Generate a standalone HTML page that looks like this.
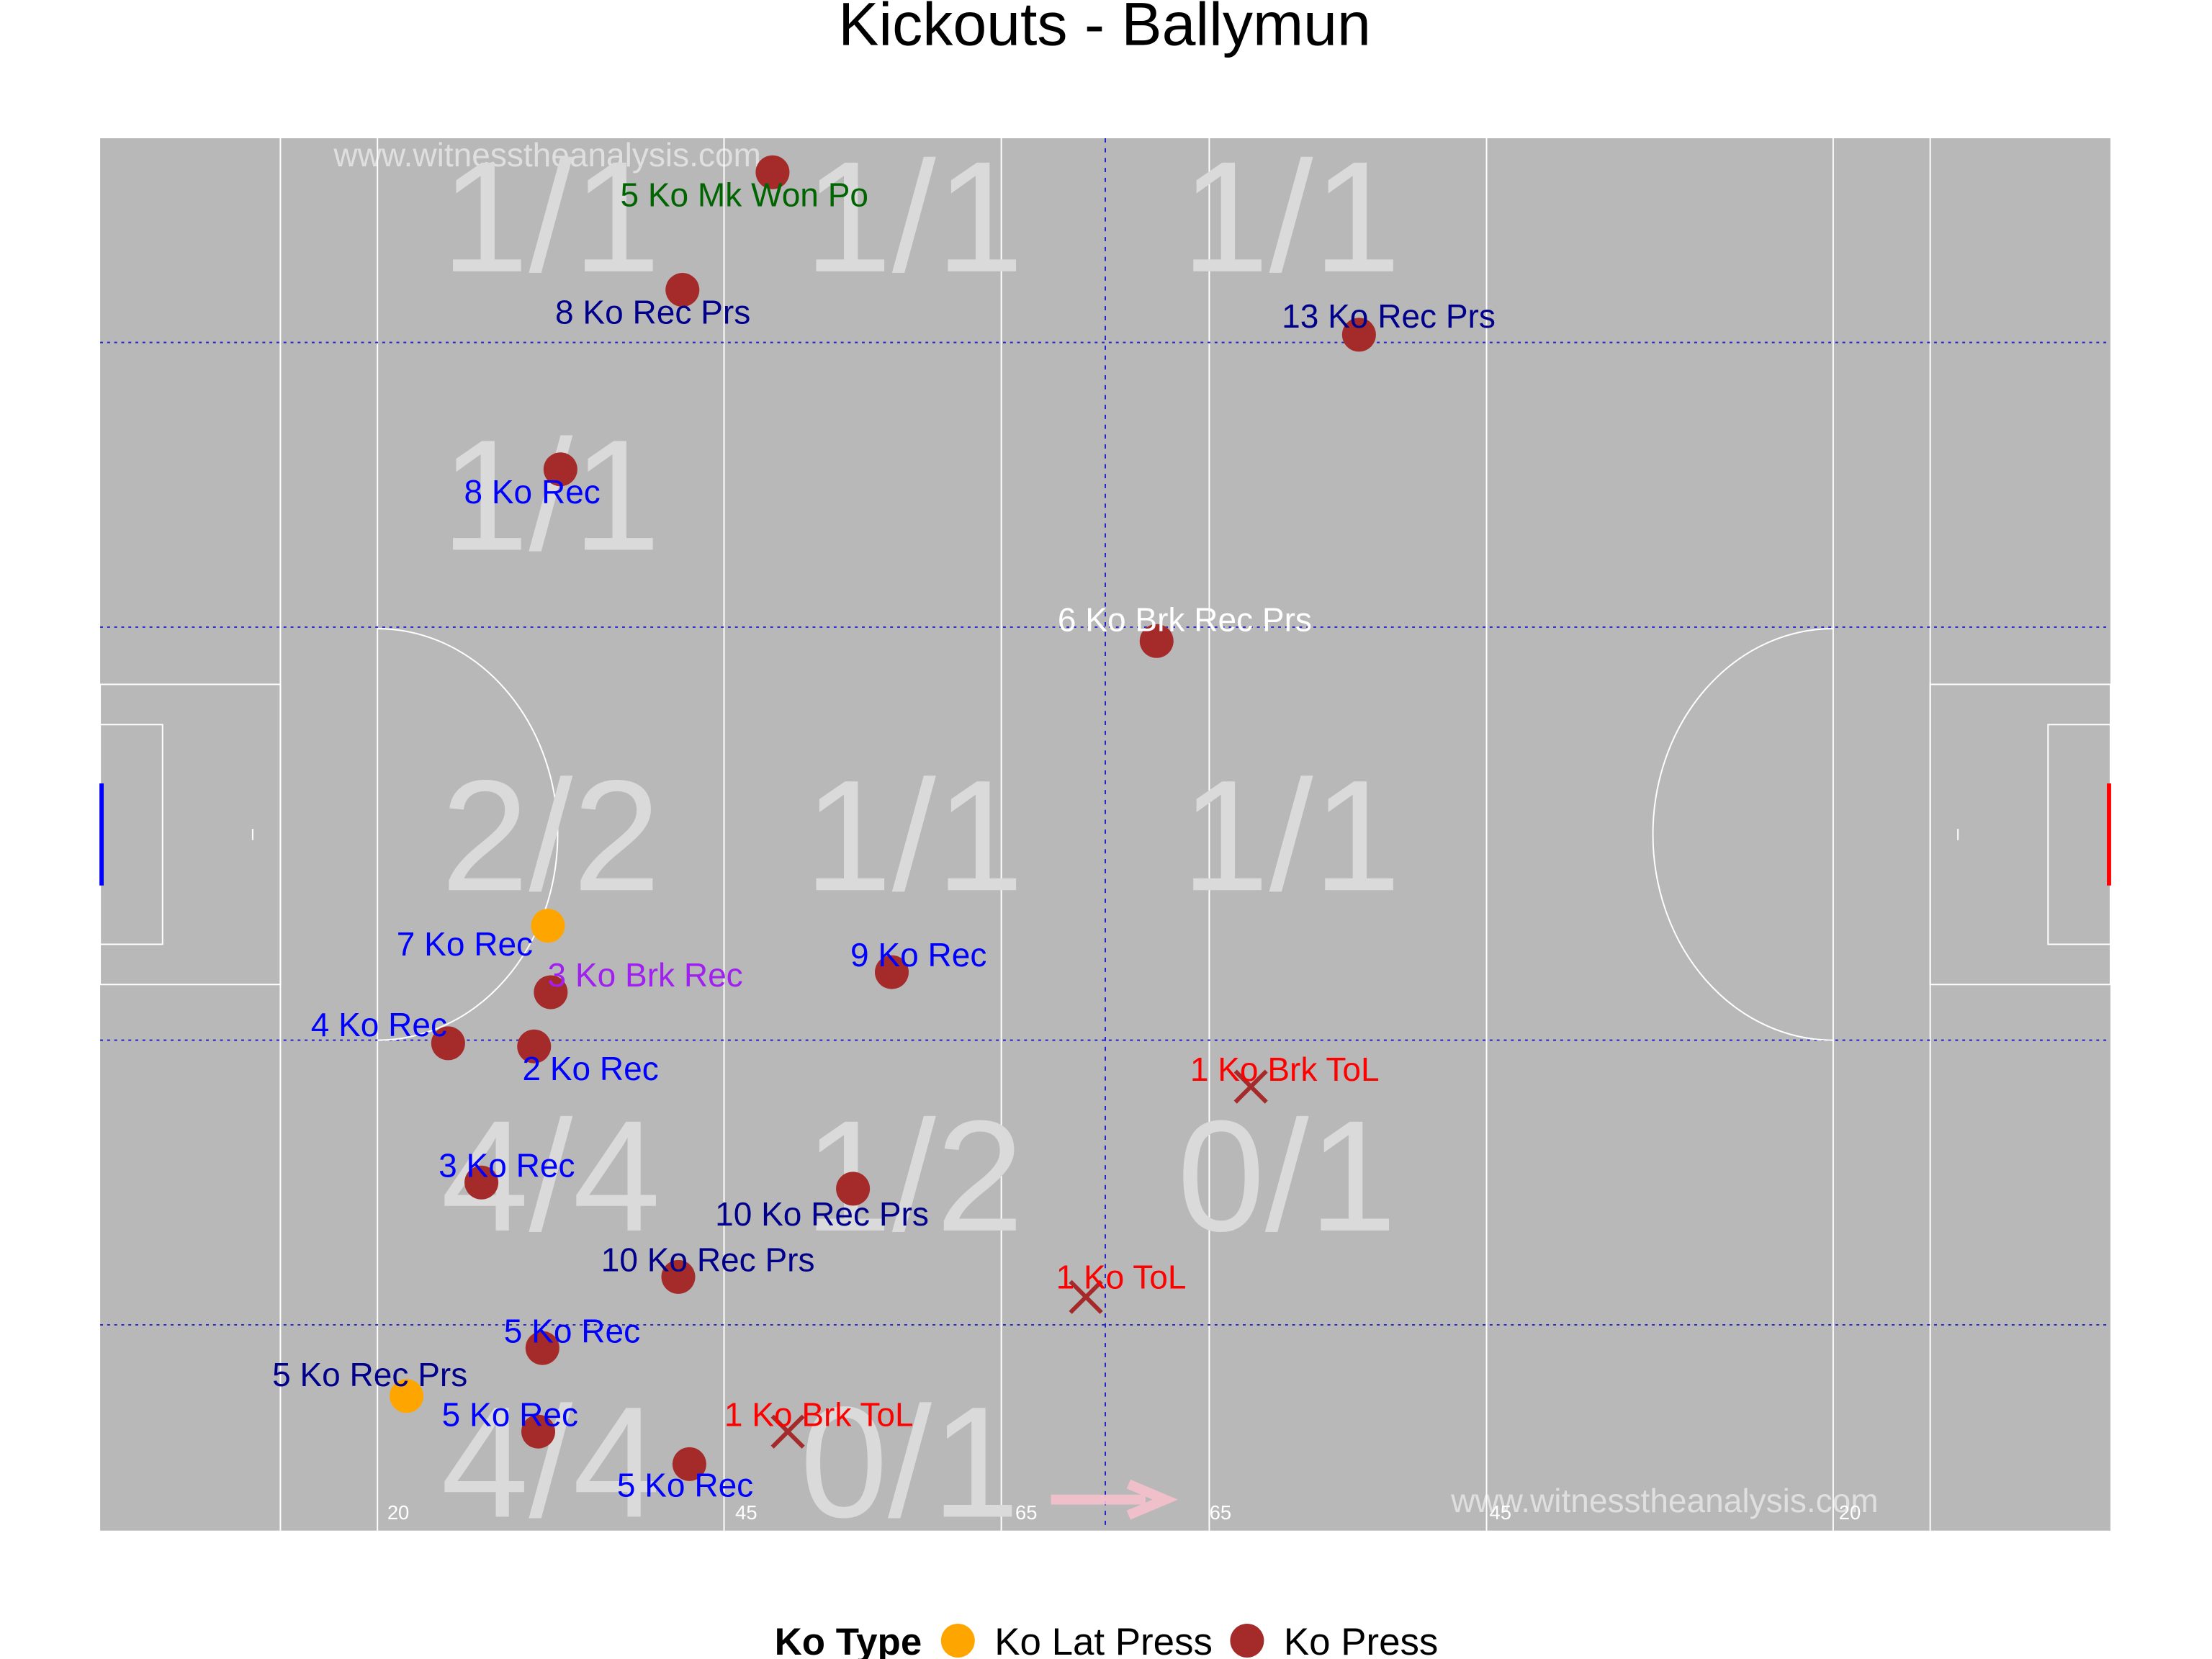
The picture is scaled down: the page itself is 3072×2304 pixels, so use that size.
<!DOCTYPE html>
<html><head><meta charset="utf-8"><style>html,body{margin:0;padding:0;background:#fff}svg{display:block}text{font-family:"Liberation Sans",sans-serif}</style></head>
<body>
<svg id="chart" width="3072" height="2304" viewBox="0 0 1568 1176" xmlns="http://www.w3.org/2000/svg">
<text x="783" y="32" font-size="43" text-anchor="middle" fill="#000">Kickouts - Ballymun</text>
<g id="pitch"></g>
<g id="zones"></g>
<g id="marks"></g>
<g>
<text x="549" y="1173" font-size="27" font-weight="bold">Ko Type</text>
<circle cx="679" cy="1163" r="12" fill="#ffa500"/>
<text x="705" y="1173" font-size="27">Ko Lat Press</text>
<circle cx="884" cy="1163" r="12" fill="#a52a2a"/>
<text x="910" y="1173" font-size="27">Ko Press</text>
</g>
</svg>
<script>
// data (pitch metres: x 0..145, y 0..90)
const pointX = [48.5,42.0,90.8,33.2,76.2,32.3,32.5,57.1,25.1,31.3,27.5,54.3,41.7,31.9,22.1,31.6,42.5];
const pointY = [2.2,9.8,12.7,21.4,32.5,50.9,55.2,53.9,58.5,58.7,67.5,67.9,73.6,78.2,81.3,83.6,85.7];
const pointType = ["press","press","press","press","press","lat","press","press","press","press","press","press","press","press","lat","press","press"];
const pointLabel = ["5 Ko Mk Won Po","8 Ko Rec Prs","13 Ko Rec Prs","8 Ko Rec","6 Ko Brk Rec Prs","7 Ko Rec","3 Ko Brk Rec","9 Ko Rec","4 Ko Rec","2 Ko Rec","3 Ko Rec","10 Ko Rec Prs","10 Ko Rec Prs","5 Ko Rec","5 Ko Rec Prs","5 Ko Rec","5 Ko Rec"];
const pointLabelColor = ["#006400","#00008b","#00008b","#0000ff","#ffffff","#0000ff","#a020f0","#0000ff","#0000ff","#0000ff","#0000ff","#00008b","#00008b","#0000ff","#00008b","#0000ff","#0000ff"];
const pointLabelDx = [-20,-21,21,-20,20,-59,67,19,-49,40,18,-22,21,21,-26,-20,-3];
const pointLabelDy = [16,16,-13,16,-15,13,-12,-12,-13,16,-12,18,-12,-12,-15,-12,15];
const crossX = [83.0,71.1,49.6];
const crossY = [61.3,74.9,83.6];
const crossLabel = ["1 Ko Brk ToL","1 Ko ToL","1 Ko Brk ToL"];
const crossLabelDx = [24,25,22];
const crossLabelDy = [-12,-14,-12];
const zoneText = ["1/1","1/1","1/1","1/1","2/2","1/1","1/1","4/4","1/2","0/1","4/4","0/1"];
const zoneX = [32.5,58.7,85.9,32.5,32.5,58.7,85.9,32.5,58.7,85.6,32.5,58.4];
const zoneY = [5.5,5.5,5.5,23.5,45.5,45.5,45.5,67.5,67.5,67.5,86,86];
const yardLabels = ["20","45","65","65","45","20"];
const yardX = [21.5,46.6,66.8,80.8,101,126.2];

const X0=71,X1=1496,Y0=98,Y1=1085;
const sx = v => X0 + v*(X1-X0)/145;
const sy = v => Y0 + v*(Y1-Y0)/90;
const NS="http://www.w3.org/2000/svg";
function mk(parent, tag, attrs, txt){const e=document.createElementNS(NS,tag);for(const k in attrs)e.setAttribute(k,attrs[k]);if(txt!==undefined)e.textContent=txt;parent.appendChild(e);return e;}

const P=document.getElementById('pitch');
let e;
e=mk(P,'rect',{x:X0,y:Y0,width:X1-X0,height:Y1-Y0,fill:'#b8b8b8'});


[13,20,45,65,80,100,125,132].forEach(m=>{
  e=mk(P,'line',{x1:sx(m),x2:sx(m),y1:Y0,y2:Y1,stroke:'#fff','stroke-width':1});
  
  
});
[13.2,31.6,58.3,76.7].forEach(m=>{
  e=mk(P,'line',{x1:X0,x2:X1,y1:sy(m),y2:sy(m),stroke:'#2222cc','stroke-width':1,'stroke-dasharray':'2,3'});
  
  
});
e=mk(P,'line',{x1:sx(72.5),x2:sx(72.5),y1:Y0,y2:Y1,stroke:'#2222cc','stroke-width':1,'stroke-dasharray':'3,4'});


[[0,13,35.3,54.7],[0,4.5,37.9,52.1],[132,145,35.3,54.7],[140.5,145,37.9,52.1]].forEach(b=>{
  e=mk(P,'rect',{x:sx(b[0]),y:sy(b[2]),width:sx(b[1])-sx(b[0]),height:sy(b[3])-sy(b[2]),fill:'none',stroke:'#fff','stroke-width':1});
  
  
});
const rx=sx(33)-sx(20), ry=sy(58.3)-sy(45), cy=sy(45);
e=mk(P,'path',{d:`M${sx(20)},${cy-ry} A${rx},${ry} 0 0 1 ${sx(20)},${cy+ry}`,fill:'none',stroke:'#fff','stroke-width':1});


e=mk(P,'path',{d:`M${sx(125)},${cy-ry} A${rx},${ry} 0 0 0 ${sx(125)},${cy+ry}`,fill:'none',stroke:'#fff','stroke-width':1});


[11,134].forEach(m=>{e=mk(P,'line',{x1:sx(m),x2:sx(m),y1:cy-4,y2:cy+4,stroke:'#fff','stroke-width':1});

});
e=mk(P,'line',{x1:X0+1,x2:X0+1,y1:sy(41.7),y2:sy(48.3),stroke:'#0000ff','stroke-width':3});


e=mk(P,'line',{x1:X1-1,x2:X1-1,y1:sy(41.7),y2:sy(48.3),stroke:'#ff0000','stroke-width':3});


yardLabels.forEach((t,i)=>{e=mk(P,'text',{x:sx(yardX[i]),y:1077,'font-size':14,fill:'#fff','text-anchor':'middle'},t);

});
e=mk(P,'text',{x:388,y:118,'font-size':23.5,fill:'#fff','fill-opacity':0.55,'text-anchor':'middle'},'www.witnesstheanalysis.com');


e=mk(P,'text',{x:1180,y:1072,'font-size':23.5,fill:'#fff','fill-opacity':0.55,'text-anchor':'middle'},'www.witnesstheanalysis.com');


e=mk(P,'path',{d:'M745,1063 L812,1063 M800,1052 L826,1063 L800,1074',fill:'none',stroke:'#f5c0cc','stroke-width':7,'stroke-opacity':0.9});



const Z=document.getElementById('zones');
zoneText.forEach((t,i)=>{e=mk(Z,'text',{x:sx(zoneX[i]),y:sy(zoneY[i])+34,'font-size':112,fill:'#dadada','text-anchor':'middle'},t);

});

const M=document.getElementById('marks');
pointX.forEach((v,i)=>{
  const cx=sx(v), cyy=sy(pointY[i]);
  e=mk(M,'circle',{cx:cx,cy:cyy,r:12,fill:pointType[i]==='lat'?'#ffa500':'#a52a2a'});
  
  
  e=mk(M,'text',{x:cx+pointLabelDx[i],y:cyy+pointLabelDy[i]+8,'font-size':23.5,fill:pointLabelColor[i],'text-anchor':'middle'},pointLabel[i]);
  
  
});
crossX.forEach((v,i)=>{
  const cx=sx(v), cyy=sy(crossY[i]);
  e=mk(M,'path',{d:`M${cx-11},${cyy-11} L${cx+11},${cyy+11} M${cx-11},${cyy+11} L${cx+11},${cyy-11}`,stroke:'#a52a2a','stroke-width':3});
  
  
  e=mk(M,'text',{x:cx+crossLabelDx[i],y:cyy+crossLabelDy[i]+8,'font-size':23.5,fill:'#ff0000','text-anchor':'middle'},crossLabel[i]);
  
  
});
</script>
</body></html>
